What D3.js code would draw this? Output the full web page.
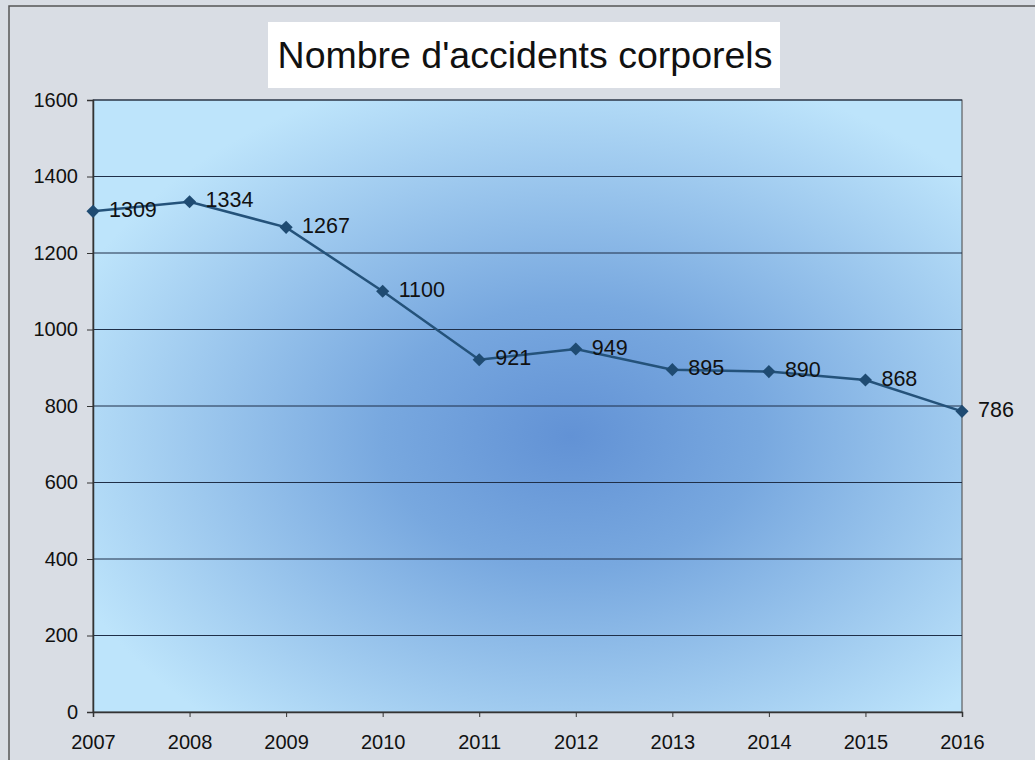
<!DOCTYPE html>
<html>
<head>
<meta charset="utf-8">
<script src="https://cdn.jsdelivr.net/npm/d3@7"></script>
<style>
  body { margin: 0; background: #d9dde4; }
  svg { display: block; }
  text { font-family: "Liberation Sans", Arial, sans-serif; fill: #111; }
</style>
</head>
<body>
<svg id="chart" width="1035" height="760"></svg>
<script>
const years = [2007, 2008, 2009, 2010, 2011, 2012, 2013, 2014, 2015, 2016];
const accidents = [1309, 1334, 1267, 1100, 921, 949, 895, 890, 868, 786];
const yTicks = [0, 200, 400, 600, 800, 1000, 1200, 1400, 1600];
const title = "Nombre d'accidents corporels";

const width = 1035, height = 760;
const margin = { top: 100, right: 73, bottom: 48, left: 93 };
const innerWidth = width - margin.left - margin.right;
const innerHeight = height - margin.top - margin.bottom;

const svg = d3.select("#chart");

// outer frame (right and bottom edges fall outside the picture)
svg.append("path")
  .attr("d", `M9,${height} V6 H${width}`)
  .attr("fill", "none")
  .attr("stroke", "#555")
  .attr("stroke-width", 1.5);

const defs = svg.append("defs");
const grad = defs.append("radialGradient")
  .attr("id", "plotbg")
  .attr("cx", 0.55).attr("cy", 0.55).attr("r", 0.62);
grad.append("stop").attr("offset", "0%").attr("stop-color", "#6292d5");
grad.append("stop").attr("offset", "35%").attr("stop-color", "#78a8df");
grad.append("stop").attr("offset", "100%").attr("stop-color", "#bde4fb");

// title box
svg.append("rect")
  .attr("x", 268).attr("y", 22)
  .attr("width", 512).attr("height", 66)
  .attr("fill", "#fff");
svg.append("text")
  .attr("x", 525).attr("y", 68)
  .attr("text-anchor", "middle")
  .attr("font-size", 37.5)
  .text(title);

const x = d3.scaleLinear()
  .domain([years[0], years[years.length - 1]])
  .range([0, innerWidth]);

const y = d3.scaleLinear()
  .domain([0, 1600])
  .range([innerHeight, 0]);

const g = svg.append("g")
  .attr("transform", `translate(${margin.left},${margin.top})`);

g.append("rect")
  .attr("width", innerWidth).attr("height", innerHeight)
  .attr("fill", "url(#plotbg)")
  .attr("stroke", "#444")
  .attr("stroke-width", 1);

// gridlines
g.append("g")
  .selectAll("line")
  .data(yTicks.filter(d => d > 0))
  .join("line")
  .attr("x1", 0).attr("x2", innerWidth)
  .attr("y1", d => y(d)).attr("y2", d => y(d))
  .attr("stroke", "#1f2f48")
  .attr("stroke-width", 1);

// axes
const yAxis = g.append("g")
  .call(d3.axisLeft(y).tickValues(yTicks).tickFormat(d3.format("d")).tickSize(6).tickPadding(9));
yAxis.select(".domain").attr("stroke", "#333").attr("stroke-width", 1.5);
yAxis.selectAll(".tick line").attr("stroke", "#333");
yAxis.selectAll(".tick text").attr("font-size", 20).attr("fill", "#111")
  .attr("font-family", "Liberation Sans, Arial, sans-serif");

const xAxis = g.append("g")
  .attr("transform", `translate(0,${innerHeight})`)
  .call(d3.axisBottom(x).tickValues(years).tickFormat(d3.format("d")).tickSize(5).tickPadding(18));
xAxis.select(".domain").attr("stroke", "#333").attr("stroke-width", 1.5);
xAxis.selectAll(".tick line").attr("stroke", "#333");
xAxis.selectAll(".tick text").attr("font-size", 20).attr("fill", "#111")
  .attr("font-family", "Liberation Sans, Arial, sans-serif");

const data = years.map((yr, i) => ({ year: yr, value: accidents[i] }));

const line = d3.line()
  .x(d => x(d.year))
  .y(d => y(d.value));

g.append("path")
  .datum(data)
  .attr("fill", "none")
  .attr("stroke", "#24527a")
  .attr("stroke-width", 2.5)
  .attr("d", line);

g.selectAll(".dot")
  .data(data)
  .join("path")
  .attr("class", "dot")
  .attr("d", d3.symbol(d3.symbolDiamond2, 110))
  .attr("transform", d => `translate(${x(d.year)},${y(d.value)})`)
  .attr("fill", "#1f4b72");

g.selectAll(".lbl")
  .data(data)
  .join("text")
  .attr("class", "lbl")
  .attr("x", d => x(d.year) + 16)
  .attr("y", d => y(d.value) - 2)
  .attr("dy", "0.35em")
  .attr("font-size", 21.5)
  .attr("fill", "#1a1a1a")
  .text(d => d.value);
</script>
</body>
</html>
